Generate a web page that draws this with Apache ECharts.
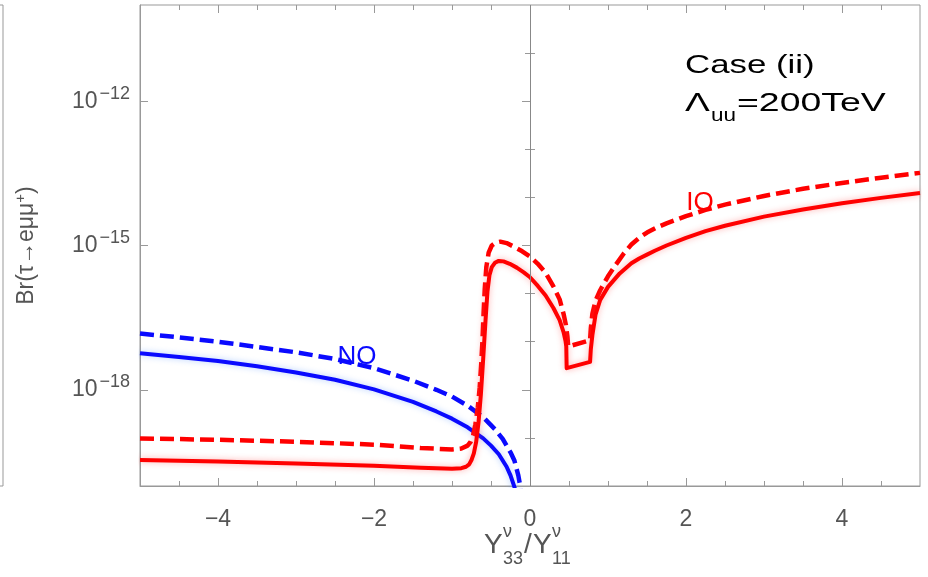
<!DOCTYPE html>
<html><head><meta charset="utf-8">
<script src="https://cdn.jsdelivr.net/npm/echarts@6/dist/echarts.min.js"></script>
<style>html,body{margin:0;padding:0;background:#fff}#c{width:928px;height:577px}</style>
</head><body><div id="c"></div>
<script>
// x = Y33/Y11, values are log10 Br(tau -> e mu mu)
const noSolidX = [-5, -4.5, -4, -3.5, -3, -2.5, -2, -1.5, -1.2, -1, -0.8, -0.6, -0.5, -0.4, -0.3, -0.25, -0.2, -0.17];
const noSolidLogBr = [-17.24, -17.32, -17.40, -17.51, -17.64, -17.79, -17.99, -18.25, -18.45, -18.60, -18.78, -19.01, -19.16, -19.34, -19.60, -19.78, -20.02, -20.2];

const noDashedX = [-5, -4.5, -4, -3.5, -3, -2.5, -2, -1.5, -1.2, -1, -0.8, -0.6, -0.45, -0.35, -0.25, -0.2, -0.15, -0.12, -0.1];
const noDashedLogBr = [-16.83, -16.91, -17.00, -17.11, -17.22, -17.36, -17.55, -17.81, -18.00, -18.14, -18.33, -18.57, -18.82, -19.02, -19.30, -19.47, -19.78, -20.05, -20.3];

const ioSolidX = [-5, -4, -3, -2, -1.4, -1.0, -0.88, -0.82, -0.78, -0.75, -0.72, -0.69, -0.66, -0.63, -0.60, -0.57, -0.545, -0.52, -0.49, -0.45, -0.40, -0.34, -0.26, -0.17, -0.08, 0, 0.1, 0.2, 0.3, 0.38, 0.43, 0.455, 0.465, 0.47, 0.77, 0.78, 0.80, 0.84, 0.90, 1.0, 1.15, 1.3, 1.4, 1.5, 1.6, 1.75, 2.0, 2.25, 2.5, 3.0, 3.5, 4.0, 4.5, 5.0];
const ioSolidLogBr = [-19.46, -19.49, -19.53, -19.58, -19.62, -19.64, -19.63, -19.60, -19.55, -19.46, -19.32, -19.08, -18.68, -18.10, -17.35, -16.55, -15.95, -15.62, -15.45, -15.36, -15.32, -15.33, -15.38, -15.46, -15.56, -15.66, -15.84, -16.04, -16.30, -16.55, -16.80, -16.98, -17.10, -17.55, -17.42, -17.15, -16.86, -16.44, -16.13, -15.86, -15.58, -15.37, -15.27, -15.19, -15.11, -15.00, -14.84, -14.70, -14.59, -14.40, -14.25, -14.12, -14.01, -13.91];

const ioDashedX = [-5, -4, -3, -2, -1.4, -1.0, -0.88, -0.80, -0.76, -0.73, -0.70, -0.67, -0.645, -0.625, -0.61, -0.595, -0.58, -0.56, -0.53, -0.49, -0.44, -0.38, -0.30, -0.20, -0.10, 0, 0.1, 0.2, 0.3, 0.38, 0.43, 0.46, 0.48, 0.49, 0.77, 0.78, 0.80, 0.84, 0.90, 1.0, 1.1, 1.2, 1.3, 1.4, 1.5, 1.62, 1.75, 2.0, 2.25, 2.5, 3.0, 3.5, 4.0, 4.5, 5.0];
const ioDashedLogBr = [-19.01, -19.04, -19.08, -19.14, -19.21, -19.24, -19.22, -19.16, -19.08, -18.95, -18.72, -18.38, -17.95, -17.45, -17.00, -16.40, -15.90, -15.45, -15.15, -15.00, -14.94, -14.92, -14.95, -15.03, -15.12, -15.23, -15.38, -15.57, -15.85, -16.12, -16.42, -16.65, -16.90, -17.10, -16.97, -16.72, -16.42, -16.15, -15.93, -15.64, -15.40, -15.17, -14.98, -14.84, -14.73, -14.63, -14.54, -14.39, -14.26, -14.15, -13.97, -13.82, -13.70, -13.59, -13.49];

const xMajorTicks = [-4, -2, 0, 2, 4];
const xMinorTicks = [-4.5, -3.5, -3, -2.5, -1.5, -1, -0.5, 0.5, 1, 1.5, 2.5, 3, 3.5, 4.5];
const yMajorTicks = [-18, -15, -12];
const yMinorTicks = [-19, -17, -16, -14, -13, -11];

const FONT = 'Liberation Sans, Arial, sans-serif';
const GRAY = '#999999';
const LABEL = '#555555';
const BLUE = '#0a0aff';
const RED = '#ff0000';

const zip = (xs, ys) => xs.map((x, i) => [x, ys[i]]);
const minus = v => (v < 0 ? '\u2212' + Math.abs(v) : String(v));

const chart = echarts.init(document.getElementById('c'), null, {renderer: 'canvas'});

function tickAxis(extra) {
  return Object.assign({
    type: 'value', gridIndex: 0, splitLine: {show: false},
    axisLine: {show: false}, axisLabel: {show: false}
  }, extra);
}

const option = {
  animation: false,
  backgroundColor: '#ffffff',
  grid: [
    {left: 140, right: 8, top: 5, bottom: 91, containLabel: false, outerBoundsMode: 'none',
     show: true, borderColor: GRAY, borderWidth: 1},
    {left: -97, width: 100, top: 5, bottom: 91, containLabel: false, outerBoundsMode: 'none',
     show: true, borderColor: GRAY, borderWidth: 1}
  ],
  xAxis: [
    {type: 'value', gridIndex: 0, position: 'bottom', min: -5, max: 5,
     axisLine: {show: true, onZero: false, lineStyle: {color: GRAY, width: 1}},
     axisTick: {show: true, inside: true, length: 8, customValues: xMajorTicks, lineStyle: {color: GRAY}},
     axisLabel: {show: true, customValues: xMajorTicks, formatter: minus, color: LABEL,
                 fontSize: 23, fontFamily: FONT, margin: 22},
     splitLine: {show: false}},
    tickAxis({position: 'bottom', min: -5, max: 5,
     axisTick: {show: true, inside: true, length: 5, customValues: xMinorTicks, lineStyle: {color: GRAY}}}),
    tickAxis({position: 'top', min: -5, max: 5,
     axisTick: {show: true, inside: true, length: 8, customValues: xMajorTicks, lineStyle: {color: GRAY}}}),
    tickAxis({position: 'top', min: -5, max: 5,
     axisTick: {show: true, inside: true, length: 5, customValues: xMinorTicks, lineStyle: {color: GRAY}}}),
    {type: 'value', gridIndex: 1, show: false, min: 0, max: 1}
  ],
  yAxis: [
    {type: 'value', gridIndex: 0, position: 'left', min: -20, max: -10,
     axisLine: {show: true, onZero: false, lineStyle: {color: GRAY, width: 1}},
     axisTick: {show: true, inside: true, length: 8, customValues: yMajorTicks, lineStyle: {color: GRAY}},
     axisLabel: {show: true, customValues: yMajorTicks, margin: 10,
       formatter: v => '{b|10}{e|\u2212' + Math.abs(v) + '}',
       rich: {
         b: {fontSize: 23, fontFamily: FONT, color: LABEL, lineHeight: 26},
         e: {fontSize: 18, fontFamily: FONT, color: LABEL, lineHeight: 18, padding: [0, 0, 15, 2]}
       }},
     splitLine: {show: false},
     name: 'Br(\u03c4\u2192e\u03bc\u03bc{s|+})', nameLocation: 'middle', nameRotate: 90, nameGap: 100,
     nameTextStyle: {fontSize: 23, fontFamily: FONT, color: LABEL,
       rich: {s: {fontSize: 15, fontFamily: FONT, color: LABEL, padding: [0, 0, 12, 0]}}}},
    tickAxis({position: 'left', min: -20, max: -10,
     axisTick: {show: true, inside: true, length: 5, customValues: yMinorTicks, lineStyle: {color: GRAY}}}),
    tickAxis({position: 'right', min: -20, max: -10,
     axisTick: {show: true, inside: true, length: 8, customValues: yMajorTicks, lineStyle: {color: GRAY}}}),
    tickAxis({position: 'right', min: -20, max: -10,
     axisTick: {show: true, inside: true, length: 5, customValues: yMinorTicks, lineStyle: {color: GRAY}}}),
    {type: 'value', gridIndex: 1, position: 'right', min: -20, max: -10, interval: 1,
     axisLine: {show: false}, axisLabel: {show: false}, splitLine: {show: false},
     axisTick: {show: true, inside: true, length: 3, lineStyle: {color: GRAY}}}
  ],
  series: [
    {type: 'line', name: 'NO dashed', xAxisIndex: 0, yAxisIndex: 0, data: zip(noDashedX, noDashedLogBr),
     showSymbol: false, symbol: 'none', clip: true, smooth: false,
     lineStyle: {color: BLUE, width: 4.5, type: [14, 6], cap: 'butt', join: 'round'},
     markLine: {silent: true, symbol: 'none', label: {show: false},
       lineStyle: {color: '#888888', width: 1, type: 'solid'}, data: [{xAxis: 0}]}},
    {type: 'line', name: 'NO solid', xAxisIndex: 0, yAxisIndex: 0, data: zip(noSolidX, noSolidLogBr),
     showSymbol: false, symbol: 'none', clip: true, smooth: false,
     lineStyle: {color: BLUE, width: 4, join: 'round',
       shadowColor: 'rgba(90,150,255,0.45)', shadowBlur: 6}},
    {type: 'line', name: 'IO dashed', xAxisIndex: 0, yAxisIndex: 0, data: zip(ioDashedX, ioDashedLogBr),
     showSymbol: false, symbol: 'none', clip: true, smooth: false,
     lineStyle: {color: RED, width: 4.5, type: [14, 6], cap: 'butt', join: 'round'}},
    {type: 'line', name: 'IO solid', xAxisIndex: 0, yAxisIndex: 0, data: zip(ioSolidX, ioSolidLogBr),
     showSymbol: false, symbol: 'none', clip: true, smooth: false,
     lineStyle: {color: RED, width: 4, join: 'round',
       shadowColor: 'rgba(255,80,80,0.45)', shadowBlur: 6}}
  ],
  graphic: [
    {type: 'text', x: 685, y: 66, scaleX: 1.34, z: 100,
     style: {text: 'Case (ii)', fontSize: 26, fontFamily: FONT, fill: '#000', textAlign: 'left', textVerticalAlign: 'middle'}},
    {type: 'text', x: 685, y: 104, scaleX: 1.43, z: 100,
     style: {text: '\u039b', fontSize: 26, fontFamily: FONT, fill: '#000', textAlign: 'left', textVerticalAlign: 'middle'}},
    {type: 'text', x: 711, y: 116, scaleX: 1.25, z: 100,
     style: {text: 'uu', fontSize: 18, fontFamily: FONT, fill: '#000', textAlign: 'left', textVerticalAlign: 'middle'}},
    {type: 'text', x: 737, y: 104, scaleX: 1.44, z: 100,
     style: {text: '=200TeV', fontSize: 26, fontFamily: FONT, fill: '#000', textAlign: 'left', textVerticalAlign: 'middle'}},
    {type: 'text', x: 357, y: 357, z: 100,
     style: {text: 'NO', fontSize: 26, fontFamily: FONT, fill: BLUE, textAlign: 'center', textVerticalAlign: 'middle'}},
    {type: 'text', x: 700, y: 203, z: 100,
     style: {text: 'IO', fontSize: 26, fontFamily: FONT, fill: RED, textAlign: 'center', textVerticalAlign: 'middle'}},
    {type: 'text', x: 484, y: 545, style: {text: 'Y', fontSize: 28, fontFamily: FONT, fill: LABEL, textAlign: 'left', textVerticalAlign: 'middle'}},
    {type: 'text', x: 503, y: 532, style: {text: '\u03bd', fontSize: 18, fontFamily: FONT, fill: LABEL, textAlign: 'left', textVerticalAlign: 'middle'}},
    {type: 'text', x: 503, y: 559, style: {text: '33', fontSize: 18, fontFamily: FONT, fill: LABEL, textAlign: 'left', textVerticalAlign: 'middle'}},
    {type: 'text', x: 524, y: 545, style: {text: '/', fontSize: 28, fontFamily: FONT, fill: LABEL, textAlign: 'left', textVerticalAlign: 'middle'}},
    {type: 'text', x: 533, y: 545, style: {text: 'Y', fontSize: 28, fontFamily: FONT, fill: LABEL, textAlign: 'left', textVerticalAlign: 'middle'}},
    {type: 'text', x: 552, y: 532, style: {text: '\u03bd', fontSize: 18, fontFamily: FONT, fill: LABEL, textAlign: 'left', textVerticalAlign: 'middle'}},
    {type: 'text', x: 552, y: 559, style: {text: '11', fontSize: 18, fontFamily: FONT, fill: LABEL, textAlign: 'left', textVerticalAlign: 'middle'}}
  ]
};
chart.setOption(option);
</script></body></html>
